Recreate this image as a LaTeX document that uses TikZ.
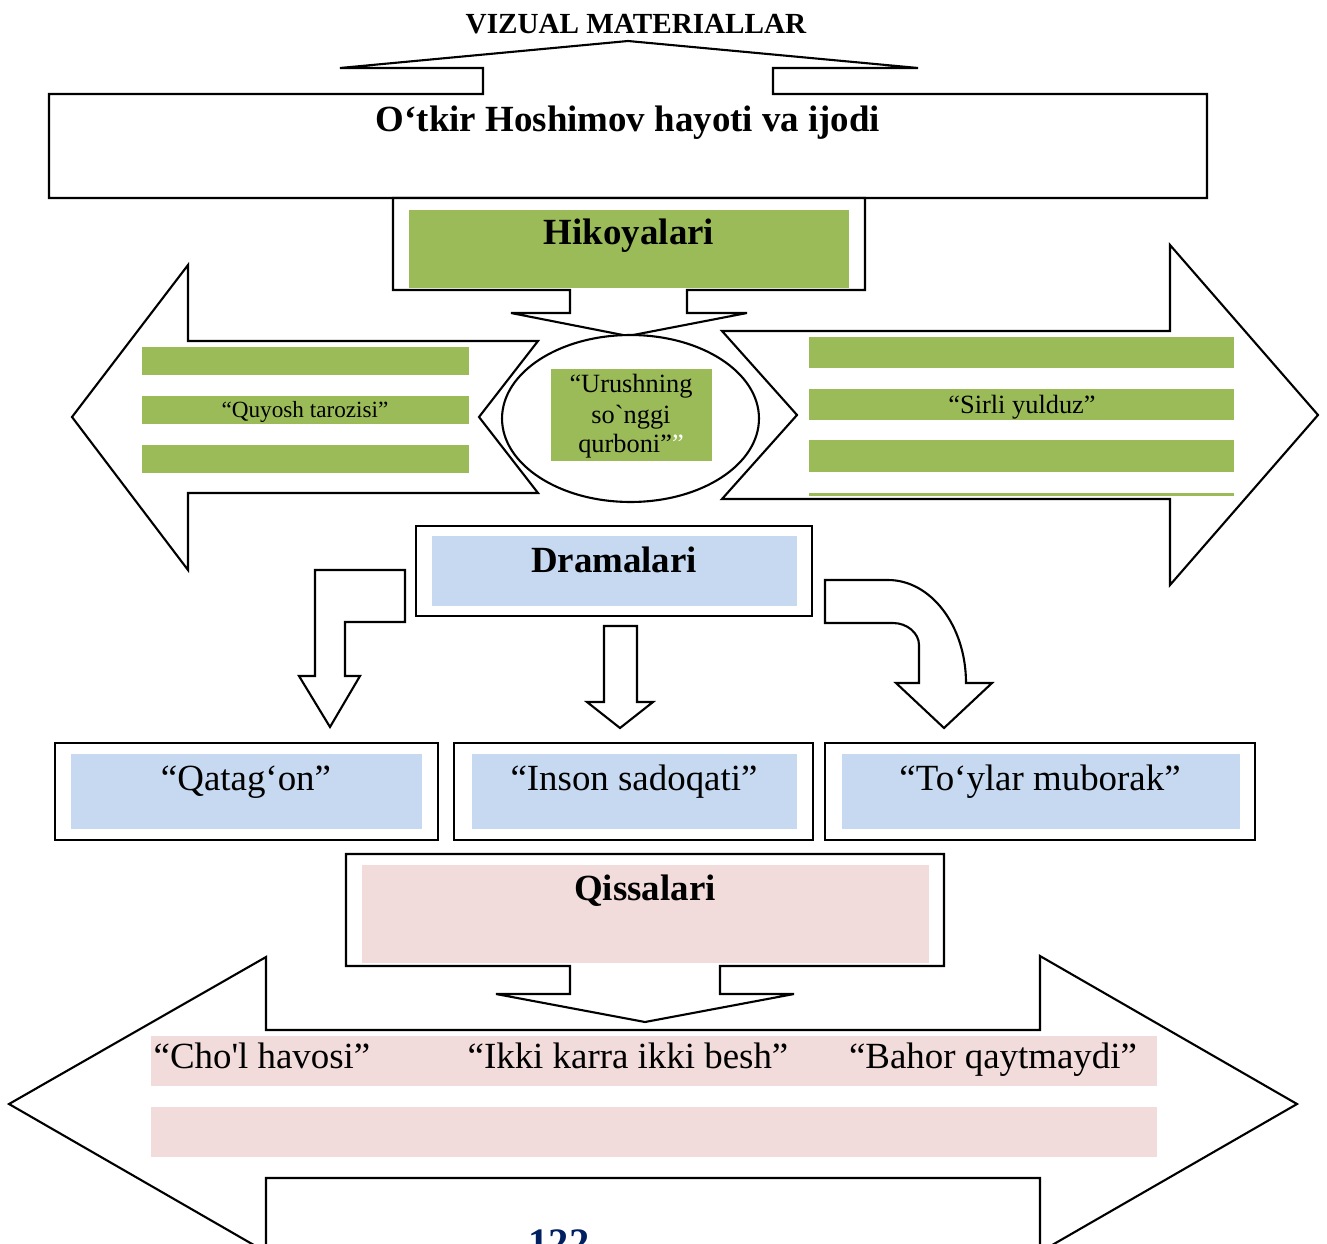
\documentclass[tikz,border=0pt]{standalone}
\usepackage{fontspec}
\setmainfont{Liberation Serif}[Ligatures=TeXOff]
\definecolor{hgreen}{HTML}{9BBB59}
\definecolor{dblue}{HTML}{C6D9F1}
\definecolor{qpink}{HTML}{F2DCDB}
\definecolor{pnavy}{HTML}{002060}
\begin{document}
\begin{tikzpicture}[x=0.02cm,y=-0.02cm,
  outline/.style={draw=black,line width=1.2pt,fill=white,line join=miter},
  titletxt/.style={font=\fontsize{21}{25}\selectfont\bfseries,anchor=base,inner sep=0pt},
  itemtxt/.style={font=\fontsize{21}{25}\selectfont,anchor=base,inner sep=0pt},
  smalltxt/.style={font=\fontsize{15}{17}\selectfont,anchor=base,inner sep=0pt}]
\useasboundingbox (0,0) rectangle (1327,1243);
\clip (0,0) rectangle (1327,1243);
\fill[white] (0,0) rectangle (1327,1243);

% top box with upward arrow
\draw[outline] (49,94) -- (483,94) -- (483,68) -- (340,68) -- (628,41) -- (918,68) -- (773,68) -- (773,94) -- (1207,94) -- (1207,198) -- (49,198) -- cycle;
\node[titletxt,font=\fontsize{16.6}{20}\selectfont\bfseries] (viz) at (636,34) {VIZUAL MATERIALLAR};
\node[titletxt] (otkir) at (628,132) {O‘tkir Hoshimov hayoti va ijodi};

% Hikoyalari callout
\draw[outline] (393,198) -- (865,198) -- (865,290) -- (687,290) -- (687,313) -- (747,313) -- (628,336) -- (511,313) -- (570,313) -- (570,290) -- (393,290) -- cycle;
\fill[hgreen] (409,210) rectangle (849,288);
\node[titletxt] (hik) at (629,245) {Hikoyalari};

% left arrow
\draw[outline] (72,417) -- (188,265) -- (188,341) -- (538,341) -- (479,417) -- (538,493) -- (188,493) -- (188,570) -- cycle;
\fill[hgreen] (142,347) rectangle (469,375);
\fill[hgreen] (142,396) rectangle (469,424);
\fill[hgreen] (142,445) rectangle (469,473);
\node[smalltxt,font=\fontsize{13.2}{15}\selectfont] (quyosh) at (305,417) {“Quyosh tarozisi”};

% right arrow
\draw[outline] (722,331) -- (1170,331) -- (1170,245) -- (1318,415) -- (1170,585) -- (1170,499) -- (722,499) -- (797,415) -- cycle;
\fill[hgreen] (809,337) rectangle (1234,368);
\fill[hgreen] (809,389) rectangle (1234,420);
\fill[hgreen] (809,440) rectangle (1234,472);
\fill[hgreen] (809,493) rectangle (1234,496);
\node[smalltxt] (sirli) at (1022,413) {“Sirli yulduz”};

% ellipse
\draw[outline] (630.5,418.5) ellipse [x radius=2.57cm, y radius=1.67cm];
\fill[hgreen] (551,369) rectangle (712,461);
\node[smalltxt] (uru1) at (631,392) {“Urushning};
\node[smalltxt] (uru2) at (631,423) {so`nggi};
\node[smalltxt] (uru3) at (631,452) {qurboni”\textcolor{white}{”}};

% Dramalari
\draw[outline] (416,526) rectangle (812,616);
\fill[dblue] (432,536) rectangle (797,606);
\node[titletxt] (dram) at (614,572) {Dramalari};

% left bent arrow
\draw[outline] (315,570) -- (405,570) -- (405,622) -- (345,622) -- (345,676) -- (360,676) -- (330,727) -- (299,676) -- (315,676) -- cycle;
% middle arrow
\draw[outline] (604,626) -- (637,626) -- (637,702) -- (653,702) -- (620,728) -- (587,702) -- (604,702) -- cycle;
% right curved arrow
\draw[outline] (825,580) -- (888,580) .. controls (931,580) and (966,626) .. (966,683) -- (992,683) -- (944,728) -- (896,683) -- (919,683) -- (919,645) .. controls (919,633) and (907,623) .. (893,623) -- (825,623) -- cycle;

% three drama boxes
\draw[outline] (55,743) rectangle (438,840);
\fill[dblue] (71,754) rectangle (422,829);
\draw[outline] (454,743) rectangle (813,840);
\fill[dblue] (472,754) rectangle (797,829);
\draw[outline] (825,743) rectangle (1255,840);
\fill[dblue] (842,754) rectangle (1240,829);
\node[itemtxt] (qatag) at (246,790) {“Qatag‘on”};
\node[itemtxt] (inson) at (634,790) {“Inson sadoqati”};
\node[itemtxt] (toylar) at (1040,790) {“To‘ylar muborak”};

% Qissalari callout
\draw[outline] (346,854) -- (944,854) -- (944,966) -- (720,966) -- (720,994) -- (794,994) -- (645,1022) -- (496,994) -- (570,994) -- (570,966) -- (346,966) -- cycle;
\fill[qpink] (362,865) rectangle (929,963);
\node[titletxt] (qiss) at (645,900) {Qissalari};

% double arrow
\draw[outline] (9,1104) -- (266,957) -- (266,1030) -- (1040,1030) -- (1040,956) -- (1297,1104) -- (1040,1252) -- (1040,1178) -- (266,1178) -- (266,1252) -- cycle;
\fill[qpink] (151,1036) rectangle (1157,1086);
\fill[qpink] (151,1107) rectangle (1157,1157);
\node[itemtxt] (chol) at (262,1068) {“Cho'l havosi”};
\node[itemtxt] (ikki) at (628,1068) {“Ikki karra ikki besh”};
\node[itemtxt] (bahor) at (993,1068) {“Bahor qaytmaydi”};

\node[titletxt,font=\fontsize{23}{27}\selectfont\bfseries,text=pnavy] (page) at (559,1256) {122};
\end{tikzpicture}
\end{document}
